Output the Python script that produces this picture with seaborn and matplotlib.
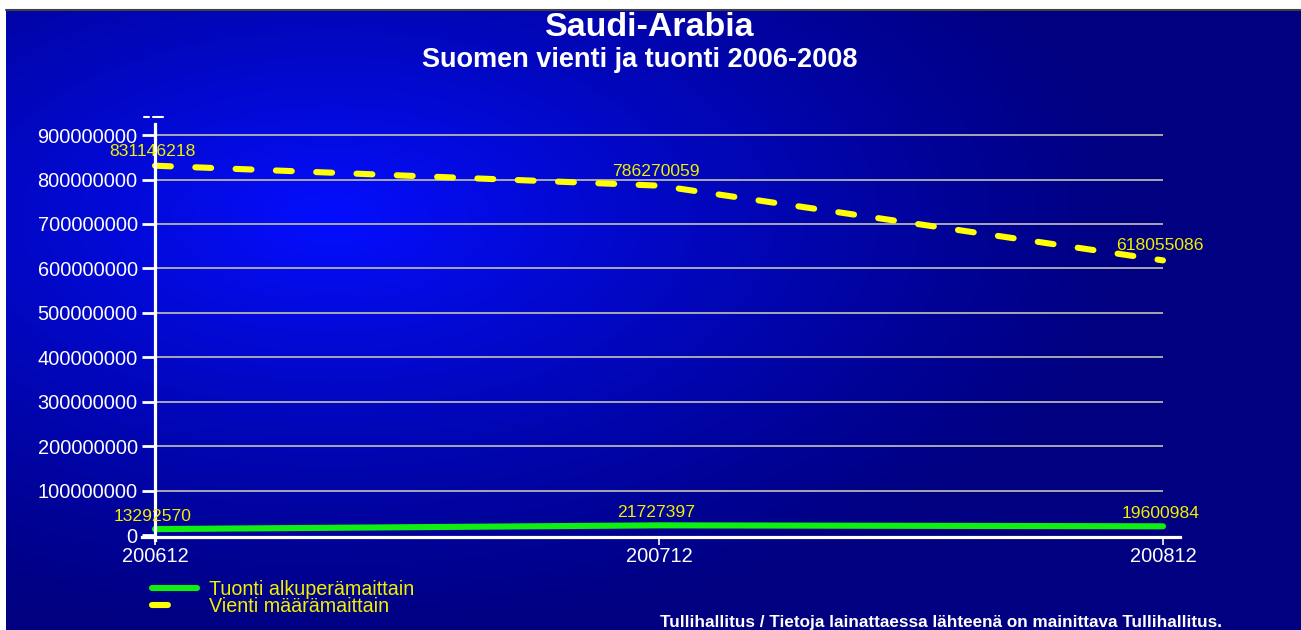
import numpy as np
import pandas as pd
import matplotlib
matplotlib.use('Agg')
import matplotlib.pyplot as plt
import seaborn as sns
from matplotlib.lines import Line2D

# Data
periods = ['200612', '200712', '200812']
tuonti = [13292570, 21727397, 19600984]
vienti = [831146218, 786270059, 618055086]
yticks = [0, 100000000, 200000000, 300000000, 400000000, 500000000,
          600000000, 700000000, 800000000, 900000000]
label_tuonti = 'Tuonti alkuperämaittain'
label_vienti = 'Vienti määrämaittain'

sns.set_theme(style='white')
plt.rcParams['font.family'] = ['Liberation Sans', 'DejaVu Sans']

W, H = 1301, 630
fig = plt.figure(figsize=(W / 100, H / 100), dpi=100, facecolor='white')

# Radial blue background
bg = fig.add_axes([6 / W, 0, (W - 6) / W, 621 / H])
yy, xx = np.mgrid[0:621, 0:W - 6]
d = np.sqrt(((xx - 325) / 820.0) ** 2 + ((yy - 210) / 430.0) ** 2)
f = np.clip(1 - d, 0, 1) ** 1.2
navy = np.array([0, 0, 128]) / 255
bright = np.array([4, 14, 255]) / 255
img = navy + f[..., None] * (bright - navy)
bg.imshow(img, aspect='auto', extent=[0, 1, 0, 1], origin='upper')
bg.set_axis_off()
fig.add_artist(Line2D([6 / W, 1], [1 - 9.5 / H, 1 - 9.5 / H], color='#404040', lw=1.5))

# Main axes
ax = fig.add_axes([142 / W, 90 / H, 1038 / W, 416 / H])
ax.set_facecolor('none')

df = pd.DataFrame({'period': list(range(len(periods))) * 2,
                   'value': tuonti + vienti,
                   'series': [label_tuonti] * 3 + [label_vienti] * 3})

sns.lineplot(data=df[df.series == label_tuonti], x='period', y='value', ax=ax,
             color='#10f010', lw=4.4, solid_capstyle='round', legend=False)
sns.lineplot(data=df[df.series == label_vienti], x='period', y='value', ax=ax,
             color='#ffff00', lw=4.4, legend=False)
ax.lines[1].set_dashes((2.6, 4.0))
ax.lines[1].set_dash_capstyle('round')

ax.set_xlim(-13 / 504, 2 + 17 / 504)
ax.set_ylim(-11.25e6, 925e6)

# grid lines
ax.hlines(yticks[1:], 0, 2, color='#b4b4b4', lw=1.3, zorder=0)

for s in ['top', 'right']:
    ax.spines[s].set_visible(False)
ax.spines['left'].set_position(('data', 0))
ax.spines['bottom'].set_position(('data', -4.5e6))
for s in ['left', 'bottom']:
    ax.spines[s].set_color('white')
    ax.spines[s].set_linewidth(2.3)

ax.set_yticks(yticks)
ax.set_yticklabels([str(v) for v in yticks])
ax.set_xticks(range(len(periods)))
ax.set_xticklabels(periods)
ax.tick_params(axis='y', colors='white', labelsize=14.4, length=9.5, width=2, direction='out', pad=3, left=True)
ax.tick_params(axis='x', colors='white', labelsize=14.4, length=6, width=1.2, direction='out', pad=1, bottom=True)
ax.set_xlabel('')
ax.set_ylabel('')

# value labels
for i, v in enumerate(tuonti):
    ax.annotate(str(v), (i, v), xytext=(-2, 4), textcoords='offset points',
                ha='center', va='bottom', color='#f0f000', fontsize=12.6)
for i, v in enumerate(vienti):
    ax.annotate(str(v), (i, v), xytext=(-2, 5), textcoords='offset points',
                ha='center', va='bottom', color='#f0f000', fontsize=12.6)

# Titles
fig.text(650 / W, 1 - 27 / H, 'Saudi-Arabia', ha='center', va='center',
         color='white', fontsize=24.5, fontweight='bold')
fig.text(640 / W, 1 - 60 / H, 'Suomen vienti ja tuonti 2006-2008', ha='center', va='center',
         color='white', fontsize=19.5, fontweight='bold')
fig.add_artist(Line2D([144 / W, 149 / W], [1 - 117 / H] * 2, color='white', lw=1.5))
fig.add_artist(Line2D([153 / W, 163 / W], [1 - 117 / H] * 2, color='white', lw=1.5))

# Legend
handles = [Line2D([], [], color='#10f010', lw=4.4, solid_capstyle='round'),
           Line2D([], [], color='#ffff00', lw=4.4, dashes=(2.6, 12), dash_capstyle='round')]
leg = fig.legend(handles, [label_tuonti, label_vienti], loc='upper left',
                 bbox_to_anchor=(152 / W, 1 - 580 / H), frameon=False,
                 fontsize=14.2, handlelength=2.3, handletextpad=0.6,
                 labelspacing=-0.1, borderpad=0, borderaxespad=0)
for t in leg.get_texts():
    t.set_color('#f0f000')

# Footer
fig.text(1222 / W, 1 - 622 / H, 'Tullihallitus / Tietoja lainattaessa lähteenä on mainittava Tullihallitus.',
         ha='right', va='center', color='white', fontsize=12.3, fontweight='bold')

plt.savefig('out.png', dpi=100)
